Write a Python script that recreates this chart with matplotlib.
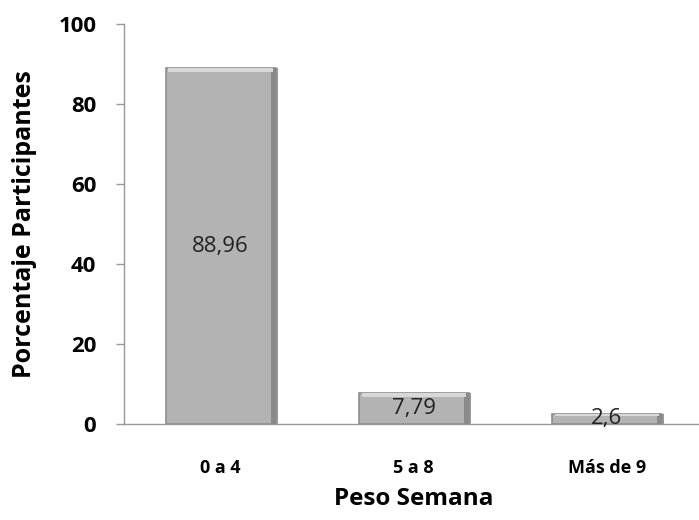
import numpy as np
import matplotlib.pyplot as plt

categories = ['0 a 4', '5 a 8', 'Más de 9']
values = [88.96, 7.79, 2.6]
value_labels = ['88,96', '7,79', '2,6']

plt.rcParams['font.family'] = ['Open Sans', 'DejaVu Sans']

fig = plt.figure(figsize=(6.99, 5.20), dpi=100)
ax = fig.add_axes([124 / 699, 96 / 520, 579.5 / 699, 400 / 520])

x = np.arange(len(categories))
w = 0.57

# main bars with a slight bevel look
ax.bar(x + 0.012, values, width=w, color='#9a9a9a', zorder=1)  # shadow
ax.bar(x, values, width=w, color='#b3b3b3', edgecolor='#8e8e8e', linewidth=1.2, zorder=2)
ax.bar(x + w / 2 - 0.012, values, width=0.024, color='#8a8a8a', zorder=3)
top_band = [min(1.0, v * 0.25) for v in values]
ax.bar(x, top_band, bottom=[v - t for v, t in zip(values, top_band)], width=w - 0.03,
       color='#d8d8d8', zorder=3)

for xi, v, lab in zip(x, values, value_labels):
    ax.text(xi, v / 2, lab, ha='center', va='center', fontsize=16, color='#222222', zorder=4)

ax.set_xlim(-0.5, 2.5)
ax.set_ylim(0, 100)
ax.set_yticks([0, 20, 40, 60, 80, 100])
ax.set_xticks(x)
ax.set_xticklabels(categories, fontsize=13, fontweight='bold')
for t in ax.get_yticklabels():
    t.set_fontsize(16)
    t.set_fontweight('bold')
ax.tick_params(axis='x', length=0, pad=25)
ax.tick_params(axis='y', length=6, width=1, color='#999999', pad=14)

for s in ['top', 'right']:
    ax.spines[s].set_visible(False)
for s in ['left', 'bottom']:
    ax.spines[s].set_color('#999999')
    ax.spines[s].set_linewidth(1)

ax.set_ylabel('Porcentaje Participantes', fontsize=18, fontweight='bold')
ax.yaxis.set_label_coords(-(124 - 37) / 579.5, 0.5)
ax.set_xlabel('Peso Semana', fontsize=17.5, fontweight='bold', va='center')
ax.xaxis.set_label_coords((414 - 124) / 579.5, -(499 - 424) / 400)

fig.savefig('out.png', dpi=100)
